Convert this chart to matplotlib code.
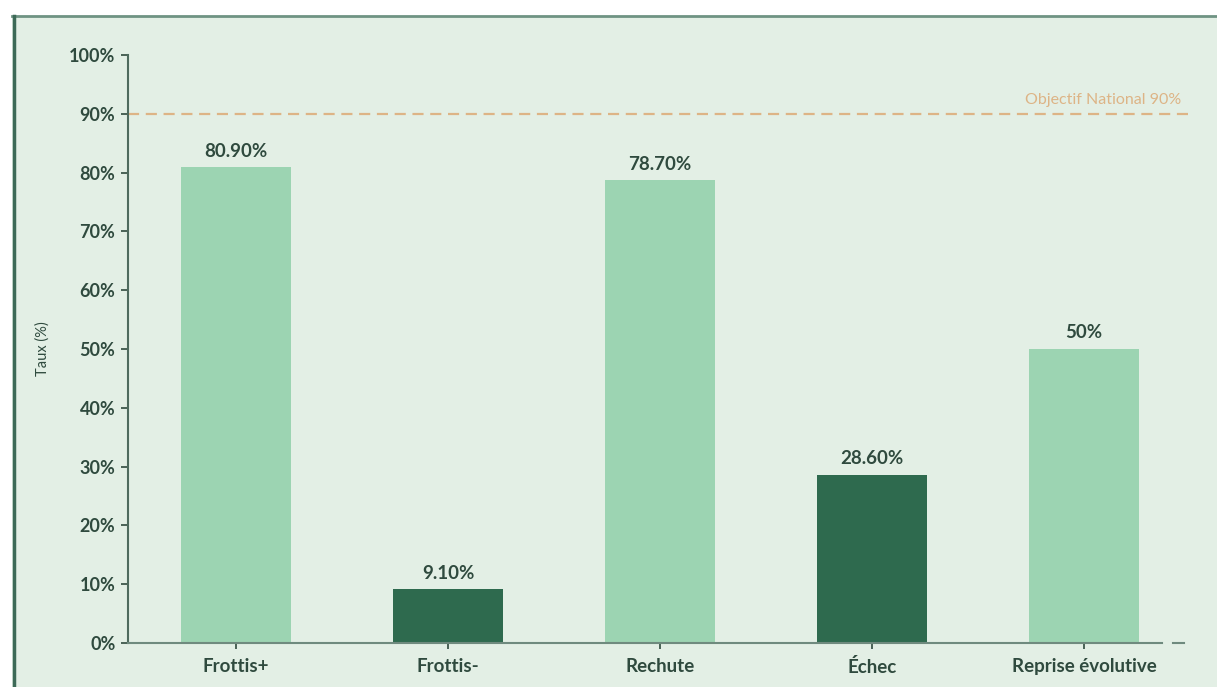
import matplotlib
matplotlib.use("Agg")
import matplotlib.pyplot as plt
from matplotlib.lines import Line2D

categories = ["Frottis+", "Frottis-", "Rechute", "Échec", "Reprise évolutive"]
values = [80.9, 9.1, 78.7, 28.6, 50.0]
value_labels = ["80.90%", "9.10%", "78.70%", "28.60%", "50%"]
dark = [False, True, False, True, False]
target = 90
target_label = "Objectif National 90%"
yticks = [0, 10, 20, 30, 40, 50, 60, 70, 80, 90, 100]

plt.rcParams['font.family'] = ['Lato', 'DejaVu Sans']

BG = "#e3efe5"
LIGHT = "#9cd4b2"
DARK = "#2e6a4e"
TEXT = "#2f4a3e"
GOLD = "#ddb486"

W, H = 1217, 687
fig = plt.figure(figsize=(W / 100, H / 100), dpi=100)
fig.patch.set_facecolor("white")

# background panel
panel = fig.add_axes([12 / W, 0, 1 - 12 / W, 1 - 16 / H])
panel.set_facecolor(BG)
panel.set_xticks([]); panel.set_yticks([])
for s in panel.spines.values():
    s.set_visible(False)
fig.add_artist(Line2D([12 / W, 1], [1 - 16 / H, 1 - 16 / H], color="#6f9383", lw=2, transform=fig.transFigure))
fig.add_artist(Line2D([13.5 / W, 13.5 / W], [0, 1 - 16 / H], color="#3d6a57", lw=2.5, transform=fig.transFigure))

ax = fig.add_axes([128 / W, 1 - 643 / H, (1190 - 128) / W, (643 - 55) / H])
ax.set_facecolor("none")
x = list(range(len(categories)))
colors = [DARK if d else LIGHT for d in dark]
bars = ax.bar(x, values, width=0.52, color=colors, zorder=2)
for xi, v, lab in zip(x, values, value_labels):
    ax.text(xi, v + 1.3, lab, ha="center", va="bottom", fontsize=13.5, color=TEXT, fontweight="bold")

ax.axhline(target, color=GOLD, lw=1.6, ls=(0, (5, 3)), zorder=1)
ax.text(4.46, target + 1.2, target_label, ha="right", va="bottom", fontsize=11.5, color=GOLD)

ax.set_xlim(-0.51, 4.5)
ax.set_ylim(0, 100)
ax.set_yticks(yticks)
ax.set_yticklabels([f"{t}%" for t in yticks])
ax.set_xticks(x)
ax.set_xticklabels(categories)
ax.tick_params(axis="y", labelsize=13, colors=TEXT, length=5, width=1.2, pad=4)
ax.tick_params(axis="x", labelsize=13.5, colors=TEXT, length=4, width=1.2, pad=7)
for t in ax.get_xticklabels() + ax.get_yticklabels():
    t.set_fontweight("bold")
ax.set_ylabel("Taux (%)", fontsize=10.5, color=TEXT, labelpad=14)
for s in ["top", "right"]:
    ax.spines[s].set_visible(False)
ax.spines["left"].set_color("#4f6b5e")
ax.spines["left"].set_linewidth(1.5)
ax.spines["bottom"].set_color("#6f8a7e")
ax.spines["bottom"].set_linewidth(1.5)
ax.spines["bottom"].set_bounds(-0.51, 4.37)
# short trailing dash after the x-axis end
ax.plot([4.42, 4.47], [0, 0], color="#6f8a7e", lw=1.5, clip_on=False, zorder=3)

fig.savefig("out.png", dpi=100, facecolor=fig.get_facecolor())
